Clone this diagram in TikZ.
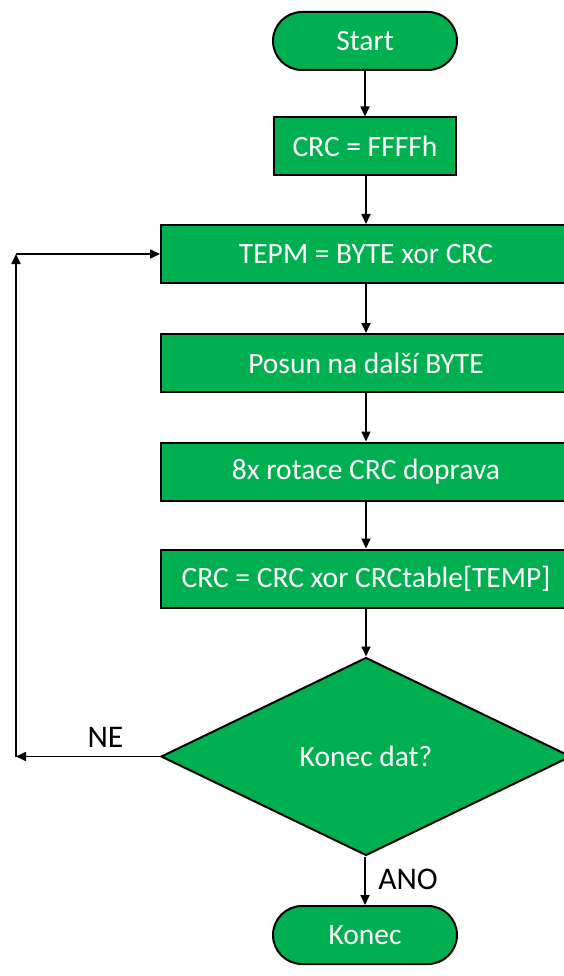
\documentclass[tikz,border=0pt]{standalone}
\usepackage{fontspec}
\setmainfont{Carlito}
\usetikzlibrary{arrows.meta,shapes.geometric}
\definecolor{boxgreen}{RGB}{0,176,80}
\begin{document}
\begin{tikzpicture}[x=1pt,y=-1pt,
  every node/.style={font=\fontsize{29.5}{35}\selectfont},
  procbox/.style={draw=black,line width=2pt,fill=boxgreen,text=white,
    minimum width=410pt,minimum height=58pt,inner sep=0pt},
  termbox/.style={draw=black,line width=2pt,fill=boxgreen,text=white,
    minimum width=184pt,minimum height=58pt,inner sep=0pt,rounded corners=29pt},
  decbox/.style={draw=black,line width=2pt,fill=boxgreen,text=white,
    shape=diamond,aspect=2,minimum width=410pt,minimum height=198pt,inner sep=0pt},
  flow/.style={draw=black,line width=1.7pt,-{Triangle[length=10pt,width=9pt]}},
  lbl/.style={text=black,anchor=base,font=\fontsize{31.5}{36}\selectfont}]
\useasboundingbox (0,0) rectangle (564,976);
\clip (0,0) rectangle (564,976);
\fill[white] (0,0) rectangle (564,976);

% process chain
\node[termbox] (start) at (365,41) {Start};
\node[procbox,minimum width=182pt] (init) at (365,146.5) {CRC = FFFFh};
\node[procbox] (temp) at (366,254) {TEPM = BYTE xor CRC};
\node[procbox] (shift) at (366,363) {Posun na další BYTE};
\node[procbox] (rot) at (366,471.5) {8x rotace CRC doprava};
\node[procbox] (upd) at (366,578.5) {CRC = CRC xor CRCtable[TEMP]};
\node[decbox] (test) at (366,756.5) {Konec dat?};
\node[termbox] (stop) at (365,935) {Konec};

% straight connectors
\draw[flow] (start) -- (init);
\draw[flow] (init.south -| temp) -- (temp);
\draw[flow] (temp) -- (shift);
\draw[flow] (shift) -- (rot);
\draw[flow] (rot) -- (upd);
\draw[flow] (upd) -- (test);
\draw[flow] (test.south -| stop) -- (stop);

% loop back
\coordinate (lowcorner) at (16,756.5);
\coordinate (topcorner) at (16,254);
\draw[flow] (test.west) -- (lowcorner);
\draw[flow] (lowcorner) -- (topcorner);
\draw[flow] (topcorner) -- (temp.west);

% branch labels
\node[lbl] (ne) at (105.5,747) {NE};
\node[lbl] (ano) at (408,889) {ANO};
\end{tikzpicture}
\end{document}
